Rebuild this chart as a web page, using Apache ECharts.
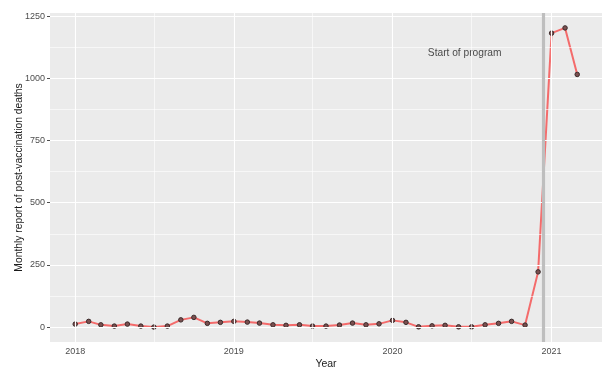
<!DOCTYPE html>
<html>
<head>
<meta charset="utf-8">
<script src="https://cdn.jsdelivr.net/npm/echarts@6/dist/echarts.min.js"></script>
<style>
html,body{margin:0;padding:0;background:#fff;}
#chart{width:614px;height:380px;}
</style>
</head>
<body>
<div id="chart"></div>
<script>
var months = ['2018-01-01','2018-02-01','2018-03-01','2018-04-01','2018-05-01','2018-06-01','2018-07-01','2018-08-01','2018-09-01','2018-10-01','2018-11-01','2018-12-01',
  '2019-01-01','2019-02-01','2019-03-01','2019-04-01','2019-05-01','2019-06-01','2019-07-01','2019-08-01','2019-09-01','2019-10-01','2019-11-01','2019-12-01',
  '2020-01-01','2020-02-01','2020-03-01','2020-04-01','2020-05-01','2020-06-01','2020-07-01','2020-08-01','2020-09-01','2020-10-01','2020-11-01','2020-12-01',
  '2021-01-01','2021-02-01','2021-03-01'];
var deaths = [12,23,9,4,12,4,0,4,29,39,15,19,
  23,20,16,9,7,9,4,4,8,16,9,13,
  27,19,1,5,7,1,1,9,15,23,8,222,
  1182,1203,1016];
var yearTicks = ['2018-01-01','2019-01-01','2020-01-01','2021-01-01'];
var yearLabels = ['2018','2019','2020','2021'];
var midYearLines = ['2018-07-01','2019-07-01','2020-07-01'];
var yTicks = [0,250,500,750,1000,1250];
var yMinorLines = [125,375,625,875,1125];
var programStart = '2020-12-12';
var annotation = {date:'2020-06-15', value:1100, text:'Start of program'};

function ts(s){ var p=s.split('-'); return Date.UTC(+p[0], +p[1]-1, +p[2]); }

var chart = echarts.init(document.getElementById('chart'), null, {renderer:'canvas'});
var gridLines = [];
yTicks.forEach(function(v){ gridLines.push({yAxis:v, lineStyle:{width:1.1}}); });
yMinorLines.forEach(function(v){ gridLines.push({yAxis:v, lineStyle:{width:0.6}}); });
yearTicks.forEach(function(d){ gridLines.push({xAxis:ts(d), lineStyle:{width:1.1}}); });
midYearLines.forEach(function(d){ gridLines.push({xAxis:ts(d), lineStyle:{width:0.6}}); });

chart.setOption({
  backgroundColor:'#ffffff',
  animation:false,
  textStyle:{fontFamily:'Liberation Sans, Arial, sans-serif'},
  grid:{left:50,right:12,top:13,bottom:38,show:true,backgroundColor:'#EBEBEB',borderWidth:0,containLabel:false,outerBoundsMode:'none'},
  xAxis:{
    type:'value',
    min:ts('2017-11-04'), max:ts('2021-04-27'),
    name:'Year', nameLocation:'middle', nameGap:17, nameMoveOverlap:false,
    nameTextStyle:{color:'#1a1a1a',fontSize:10.5},
    axisLine:{show:false},
    axisTick:{show:true,length:3,lineStyle:{color:'#4D4D4D'},customValues:yearTicks.map(ts)},
    axisLabel:{color:'#4D4D4D',fontSize:9,margin:5,customValues:yearTicks.map(ts),
      formatter:function(v){ var i = yearTicks.map(ts).indexOf(v); return i >= 0 ? yearLabels[i] : ''; }},
    splitLine:{show:false}
  },
  yAxis:{
    type:'value',
    min:-60, max:1263,
    name:'Monthly report of post-vaccination deaths', nameLocation:'middle', nameGap:26, nameMoveOverlap:false,
    nameTextStyle:{color:'#1a1a1a',fontSize:10.3},
    axisLine:{show:false},
    axisTick:{show:true,length:3,lineStyle:{color:'#4D4D4D'},customValues:yTicks},
    axisLabel:{color:'#4D4D4D',fontSize:9,margin:5,customValues:yTicks,
      formatter:function(v){ return String(v); }},
    splitLine:{show:false}
  },
  series:[
    {
      type:'line', name:'grid', data:[], z:1, silent:true,
      markLine:{silent:true,symbol:'none',label:{show:false},animation:false,
        lineStyle:{color:'#ffffff',type:'solid'},data:gridLines}
    },
    {
      type:'line', name:'start', data:[], z:1.5, silent:true,
      markLine:{silent:true,symbol:'none',label:{show:false},animation:false,
        lineStyle:{color:'#BEBEBE',type:'solid',width:3.2},data:[{xAxis:ts(programStart)}]}
    },
    {
      type:'line', name:'deaths', z:3,
      data:months.map(function(m,i){ return [ts(m), deaths[i]]; }),
      lineStyle:{color:'#F46B6B',width:2},
      symbol:'circle', symbolSize:4.5, showSymbol:true,
      itemStyle:{color:'#7a5050',borderColor:'#3a2a2a',borderWidth:1}
    },
    {
      type:'scatter', name:'label', z:4, symbolSize:0,
      data:[[ts(annotation.date), annotation.value]],
      label:{show:true,position:'inside',formatter:annotation.text,color:'#1a1a1a',fontSize:10.2}
    }
  ]
});
</script>
</body>
</html>
